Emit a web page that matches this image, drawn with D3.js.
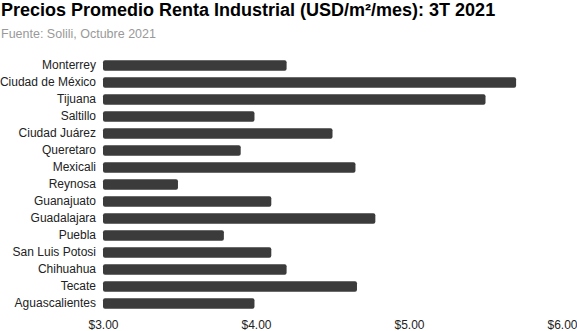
<!DOCTYPE html>
<html>
<head>
<meta charset="utf-8">
<script src="https://cdn.jsdelivr.net/npm/d3@7"></script>
<style>
  body { margin: 0; background: #fff; }
  svg { display: block; font-family: "Liberation Sans", Arial, sans-serif; }
</style>
</head>
<body>
<div id="chart"></div>
<script>
// Data
const cities = ["Monterrey", "Ciudad de México", "Tijuana", "Saltillo", "Ciudad Juárez",
  "Queretaro", "Mexicali", "Reynosa", "Guanajuato", "Guadalajara", "Puebla",
  "San Luis Potosi", "Chihuahua", "Tecate", "Aguascalientes"];
const prices = [4.20, 5.70, 5.50, 3.99, 4.50, 3.90, 4.65, 3.49, 4.10, 4.78, 3.79, 4.10, 4.20, 4.66, 3.99];
const ticks = [3, 4, 5, 6];

const W = 577, H = 331;
const margin = { top: 57, right: 15, bottom: 36, left: 103 };

const svg = d3.select("#chart").append("svg")
    .attr("width", W)
    .attr("height", H);

// Title and source
svg.append("text")
    .attr("x", 1)
    .attr("y", 16)
    .style("font-size", "18px")
    .style("font-weight", "bold")
    .style("fill", "#000")
    .text("Precios Promedio Renta Industrial (USD/m²/mes): 3T 2021");

svg.append("text")
    .attr("x", 1)
    .attr("y", 38)
    .style("font-size", "12.5px")
    .style("fill", "#999")
    .text("Fuente: Solili, Octubre 2021");

const x = d3.scaleLinear()
    .domain([3, 6])
    .range([margin.left, 562]);

const y = d3.scaleBand()
    .domain(cities)
    .range([margin.top, margin.top + 17 * cities.length])
    .paddingInner(0.38)
    .paddingOuter(0.19);

// Bars
svg.append("g").selectAll("rect")
    .data(cities)
    .join("rect")
    .attr("x", x(3))
    .attr("y", d => y(d))
    .attr("width", (d, i) => x(prices[i]) - x(3))
    .attr("height", y.bandwidth())
    .attr("rx", 2)
    .attr("fill", "#3b3b3b");

// Y axis (city labels)
const yAxis = svg.append("g")
    .attr("transform", `translate(${margin.left},0)`)
    .call(d3.axisLeft(y).tickSize(0).tickPadding(7));
yAxis.select(".domain").remove();
yAxis.selectAll("text")
    .style("font-size", "12px")
    .style("font-family", "Liberation Sans, Arial, sans-serif")
    .style("fill", "#222");

// X axis
const xAxis = svg.append("g")
    .attr("transform", `translate(0,${H - 20})`)
    .call(d3.axisBottom(x).tickValues(ticks).tickSize(0).tickPadding(9)
        .tickFormat(d => "$" + d3.format(".2f")(d)));
xAxis.select(".domain").remove();
xAxis.selectAll("text")
    .style("font-size", "12px")
    .style("font-family", "Liberation Sans, Arial, sans-serif")
    .style("fill", "#222");
</script>
</body>
</html>
